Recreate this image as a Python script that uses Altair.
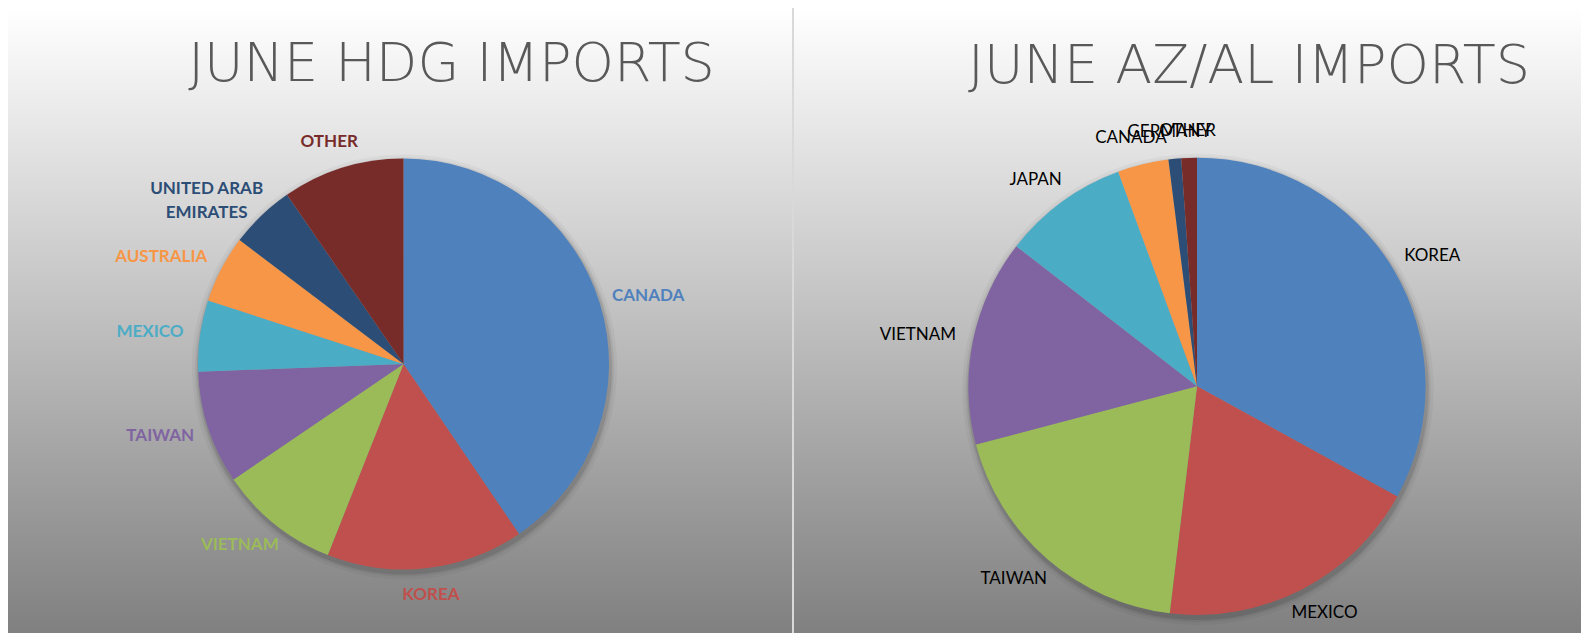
import math
import altair as alt
import pandas as pd

# ---- data -------------------------------------------------------------
hdg_title = "JUNE HDG IMPORTS"
hdg_countries = ["CANADA", "KOREA", "VIETNAM", "TAIWAN", "MEXICO",
                 "AUSTRALIA", "UNITED ARAB\nEMIRATES", "OTHER"]
hdg_share = [40.5, 15.5, 9.5, 8.9, 5.6, 5.3, 5.1, 9.6]

azal_title = "JUNE AZ/AL IMPORTS"
azal_countries = ["KOREA", "MEXICO", "TAIWAN", "VIETNAM", "JAPAN",
                  "CANADA", "GERMANY", "OTHER"]
azal_share = [33.0, 18.9, 19.0, 14.6, 8.9, 3.6, 0.9, 1.1]

palette = ["#4F81BD", "#C0504D", "#9BBB59", "#8064A2",
           "#4BACC6", "#F79646", "#2C4D75", "#772C2A"]

# ---- layout -----------------------------------------------------------
PANEL_H = 625
LEFT_W, RIGHT_W = 784, 787

grad = alt.LinearGradient(
    gradient="linear",
    stops=[alt.GradientStop(color="#ffffff", offset=0),
           alt.GradientStop(color="#808080", offset=1)],
    x1=0, x2=0, y1=0, y2=1,
)


def frame(labels, values, R, cw=11.5, lh=21, gap=16):
    """Slice table (cumulative start/end/mid) plus an outside-end label
    position: an anchor on the mid-angle ray just outside the pie, with the
    label box pushed outward by half its width / height (like Excel)."""
    total = float(sum(values))
    rows, cum = [], 0.0
    for i, (lab, v) in enumerate(zip(labels, values)):
        start, end = cum, cum + v
        mid = (start + end) / 2.0
        ang = mid / total * 2 * math.pi
        cum = end
        lines = lab.split("\n")
        w = max(len(s) for s in lines) * cw
        h = len(lines) * lh
        cx = (R + gap + w / 2) * math.sin(ang)
        cy = -(R + gap + h / 2) * math.cos(ang)
        lr = math.hypot(cx, cy)
        la = math.atan2(cx, -cy) % (2 * math.pi)
        lpos = la / (2 * math.pi) * total
        rows.append(dict(idx=i, label=lab, value=v, start=start, end=end,
                         lpos=lpos, lr=lr))
    return pd.DataFrame(rows), total


def panel(title, labels, values, W, cx, cy, R, tx, ty, bold):
    df, total = frame(labels, values, R)
    one = pd.DataFrame({"k": [0]})

    bg = alt.Chart(one).mark_rect(color=grad).encode(
        x=alt.value(0), x2=alt.value(W), y=alt.value(0), y2=alt.value(PANEL_H)
    )

    shadows = [
        alt.Chart(one).mark_arc(radius=R + d, theta=0, theta2=2 * math.pi,
                                color="#000000", opacity=op).encode(
            x=alt.value(cx + 1), y=alt.value(cy + 3))
        for d, op in [(7, 0.035), (4, 0.06), (2, 0.10)]
    ]

    ttl = alt.Chart(pd.DataFrame({"t": [title]})).mark_text(
        font="DejaVu Sans", fontWeight=200, fontSize=54, color="#595959",
        align="center", baseline="alphabetic",
    ).encode(x=alt.value(tx), y=alt.value(ty), text="t:N")

    theta_scale = alt.Scale(domain=[0, total], range=[0, 2 * math.pi])
    color = alt.Color("idx:N", scale=alt.Scale(domain=list(range(len(palette))),
                                               range=palette), legend=None)

    arcs = alt.Chart(df).mark_arc(radius=R).encode(
        theta=alt.Theta("start:Q", scale=theta_scale),
        theta2="end:Q",
        color=color,
        x=alt.value(cx), y=alt.value(cy),
    )

    txt_enc = dict(
        theta=alt.Theta("lpos:Q", scale=theta_scale),
        x=alt.value(cx), y=alt.value(cy),
        radius=alt.Radius("lr:Q", scale=None),
        text=alt.Text("label:N"),
        color=color if bold else alt.value("#000000"),
    )
    txt = alt.Chart(df).mark_text(
        font="Lato", fontSize=17, fontWeight="bold" if bold else "normal",
        lineBreak="\n", lineHeight=24, align="center", baseline="middle",
    ).encode(**txt_enc)

    return alt.layer(bg, *shadows, ttl, arcs, txt).properties(width=W, height=PANEL_H)


left = panel(hdg_title, hdg_countries, hdg_share, LEFT_W,
             cx=395.5, cy=356, R=205.5, tx=443.5, ty=73, bold=True)
right = panel(azal_title, azal_countries, azal_share, RIGHT_W,
              cx=403, cy=378.3, R=228.6, tx=455, ty=75.3, bold=False)

chart = (
    alt.hconcat(left, right, spacing=2)
    .resolve_scale(color="independent", theta="independent")
    .configure_view(stroke=None)
    .properties(padding=0, background="#d9d9d9")
)

chart.save("out.html", embed_options={"renderer": "svg", "actions": False})
